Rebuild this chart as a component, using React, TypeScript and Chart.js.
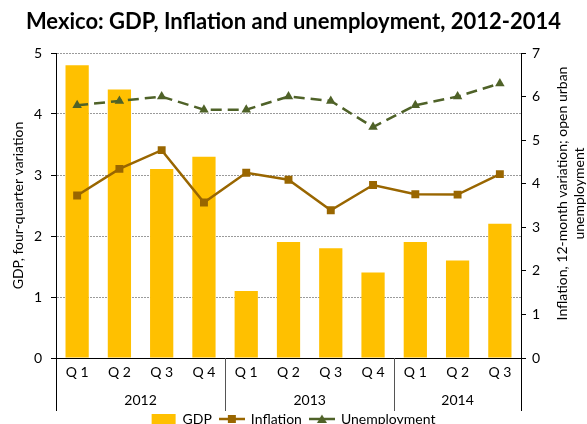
import React, { useEffect, useRef } from 'react';
import { Chart, registerables } from 'chart.js';

Chart.register(...registerables);

// ---- data ----
const categories = ['Q 1', 'Q 2', 'Q 3', 'Q 4', 'Q 1', 'Q 2', 'Q 3', 'Q 4', 'Q 1', 'Q 2', 'Q 3'];
const years = ['2012', '2013', '2014'];
const yearGroupSizes = [4, 4, 3];
const gdp = [4.8, 4.4, 3.1, 3.3, 1.1, 1.9, 1.8, 1.4, 1.9, 1.6, 2.2];
const inflation = [3.73, 4.34, 4.77, 3.57, 4.25, 4.09, 3.39, 3.97, 3.76, 3.75, 4.22];
const unemployment = [5.8, 5.9, 6.0, 5.7, 5.7, 6.0, 5.9, 5.3, 5.8, 6.0, 6.3];
const seriesNames = ['GDP', 'Inflation', 'Unemployment'];
const titleText = 'Mexico: GDP, Inflation and unemployment, 2012-2014';
const leftAxisTitle = 'GDP, four-quarter variation';
const rightAxisTitle = ['Inflation, 12-month variation; open urban', 'unemployment'];

const FONT = 'Lato';
const GDP_COLOR = '#FFC000';
const INF_COLOR = '#996600';
const UNEMP_COLOR = '#4F6228';

function legendIcon(kind: 'bar' | 'square' | 'triangle', color: string): HTMLCanvasElement {
  const c = document.createElement('canvas');
  c.width = 26;
  c.height = 12;
  const g = c.getContext('2d')!;
  g.fillStyle = color;
  g.strokeStyle = color;
  if (kind === 'bar') {
    g.fillRect(1, 1, 24, 10);
  } else {
    g.lineWidth = 2.5;
    g.beginPath();
    g.moveTo(0, 6);
    g.lineTo(26, 6);
    g.stroke();
    g.beginPath();
    if (kind === 'square') {
      g.rect(9, 2, 8, 8);
    } else {
      g.moveTo(13, 1.5);
      g.lineTo(18, 10);
      g.lineTo(8, 10);
      g.closePath();
    }
    g.fill();
  }
  return c;
}

const groupPlugin = {
  id: 'yearGroups',
  afterDraw(chart: any) {
    const xs = chart.scales.x;
    const area = chart.chartArea;
    const ctx = chart.ctx;
    const half = (xs.getPixelForValue(1) - xs.getPixelForValue(0)) / 2;
    ctx.save();
    let start = 0;
    const bounds: number[] = [xs.getPixelForValue(0) - half];
    yearGroupSizes.forEach((n, gi) => {
      const end = start + n - 1;
      const x0 = xs.getPixelForValue(start) - half;
      const x1 = xs.getPixelForValue(end) + half;
      bounds.push(x1);
      ctx.fillStyle = '#000';
      ctx.font = `14px ${FONT}`;
      ctx.textAlign = 'center';
      ctx.textBaseline = 'middle';
      ctx.fillText(years[gi], (x0 + x1) / 2, area.bottom + 42);
      start += n;
    });
    bounds.forEach((bx, i) => {
      ctx.strokeStyle = i === 0 || i === bounds.length - 1 ? '#000' : '#555';
      ctx.lineWidth = 1;
      ctx.beginPath();
      const px = Math.round(bx) + 0.5;
      ctx.moveTo(px, area.bottom);
      ctx.lineTo(px, area.bottom + 53);
      ctx.stroke();
    });
    // right axis title (reads bottom to top)
    const ys = chart.scales.y1;
    const cy = (area.top + area.bottom) / 2 - 12;
    ctx.fillStyle = '#000';
    ctx.font = `14px ${FONT}`;
    ctx.textAlign = 'center';
    ctx.textBaseline = 'middle';
    rightAxisTitle.forEach((line, i) => {
      ctx.save();
      ctx.translate(ys.left + 41 + i * 17, cy);
      ctx.rotate(-Math.PI / 2);
      ctx.fillText(line, 0, 0);
      ctx.restore();
    });
    ctx.restore();
  },
};

export default function App() {
  const ref = useRef<HTMLCanvasElement | null>(null);
  useEffect(() => {
    document.body.style.margin = '0';
    const icons = [
      legendIcon('bar', GDP_COLOR),
      legendIcon('square', INF_COLOR),
      legendIcon('triangle', UNEMP_COLOR),
    ];
    const chart = new Chart(ref.current!, {
      type: 'bar',
      data: {
        labels: categories,
        datasets: [
          {
            type: 'bar',
            label: seriesNames[0],
            data: gdp,
            backgroundColor: GDP_COLOR,
            borderWidth: 0,
            yAxisID: 'y',
            barPercentage: 0.55,
            categoryPercentage: 1,
            order: 2,
          },
          {
            type: 'line',
            label: seriesNames[1],
            data: inflation,
            borderColor: INF_COLOR,
            backgroundColor: INF_COLOR,
            borderWidth: 2.5,
            pointStyle: 'rect',
            pointRadius: 5.6,
            pointBorderWidth: 0,
            yAxisID: 'y1',
            order: 0,
          },
          {
            type: 'line',
            label: seriesNames[2],
            data: unemployment,
            borderColor: UNEMP_COLOR,
            backgroundColor: UNEMP_COLOR,
            borderWidth: 2.5,
            borderDash: [11, 6],
            pointStyle: 'triangle',
            pointRadius: 5.5,
            pointBorderWidth: 0,
            yAxisID: 'y1',
            order: 1,
          },
        ],
      },
      options: {
        animation: false,
        responsive: true,
        maintainAspectRatio: false,
        layout: { padding: { left: 0, right: 0, top: 0, bottom: -12 } },
        plugins: {
          title: {
            display: true,
            text: titleText,
            color: '#000',
            font: { family: FONT, size: 22, weight: 'bold' },
            padding: { top: 9, bottom: 17.6 },
          },
          legend: {
            position: 'bottom',
            labels: {
              color: '#000',
              font: { family: FONT, size: 14 },
              usePointStyle: true,
              pointStyleWidth: 24,
              padding: 8,
              sort: (a: any, b: any) => a.datasetIndex - b.datasetIndex,
              generateLabels: (chart: any) => {
                const items = Chart.defaults.plugins.legend.labels.generateLabels(chart);
                items.forEach((it: any) => {
                  it.pointStyle = icons[it.datasetIndex];
                });
                return items;
              },
            },
          },
          tooltip: { enabled: false },
        },
        scales: {
          x: {
            grid: { display: false, drawTicks: false },
            border: { display: true, color: '#000', width: 1 },
            ticks: { color: '#000', font: { family: FONT, size: 14 }, padding: 6 },
            afterFit: (s: any) => {
              s.height = 46;
            },
          },
          y: {
            position: 'left',
            min: 0,
            max: 5,
            ticks: { stepSize: 1, color: '#000', font: { family: FONT, size: 14 }, padding: 9 },
            grid: {
              color: (c: any) => (c.tick && c.tick.value === 0 ? 'rgba(0,0,0,0)' : '#9a9a9a'),
              lineWidth: 1,
              tickColor: '#000',
              tickLength: 5,
              tickBorderDash: [],
            },
            border: { display: true, color: '#000', width: 1, dash: [2, 1] },
            title: {
              display: true,
              text: leftAxisTitle,
              color: '#000',
              font: { family: FONT, size: 14 },
              padding: { top: 10, bottom: 0 },
            },
            afterFit: (s: any) => {
              s.width = 56;
            },
          },
          y1: {
            position: 'right',
            min: 0,
            max: 7,
            ticks: { stepSize: 1, color: '#000', font: { family: FONT, size: 14 }, padding: 6 },
            grid: { drawOnChartArea: false, tickColor: '#000', tickLength: 5 },
            border: { display: true, color: '#000', width: 1 },
            afterFit: (s: any) => {
              s.width = 66;
            },
          },
        },
      },
      plugins: [groupPlugin],
    });
    return () => chart.destroy();
  }, []);
  return (
    <div style={{ position: 'relative', width: 587, height: 424 }}>
      <canvas ref={ref} />
    </div>
  );
}
